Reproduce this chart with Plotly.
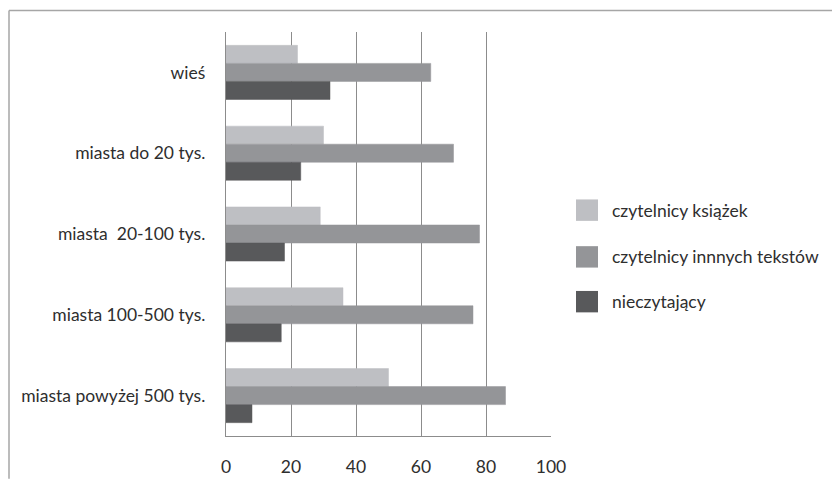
import plotly.graph_objects as go

# Categories (top to bottom) and series values in percent
categories = ["wieś", "miasta do 20 tys.", "miasta  20-100 tys.",
              "miasta 100-500 tys.", "miasta powyżej 500 tys."]
series_names = ["czytelnicy książek", "czytelnicy innnych tekstów", "nieczytający"]
czytelnicy_ksiazek = [22, 30, 29, 36, 50]
czytelnicy_innych = [63, 70, 78, 76, 86]
nieczytajacy = [32, 23, 18, 17, 8]
x_ticks = [0, 20, 40, 60, 80, 100]

colors = ["#bebfc3", "#949598", "#58595b"]
values = [czytelnicy_ksiazek, czytelnicy_innych, nieczytajacy]

W, H = 832, 489
ML, MR, MT, MB = 226, 281, 32, 42
PW, PH = W - ML - MR, H - MT - MB
FONT = "Lato"
TXT = "#2e2e2e"
FS = 17.5


def px_x(px):
    return (px - ML) / PW


def px_y(py):
    return (H - MB - py) / PH


fig = go.Figure()
for name, vals, col in zip(series_names, values, colors):
    fig.add_trace(go.Bar(
        y=categories, x=vals, name=name, orientation="h",
        marker=dict(color=col, line=dict(color=col, width=0.5)),
        showlegend=False,
    ))

shapes = []
annotations = []
# Legend: square swatch + label for each series
leg_centers = [215, 263, 309]
for name, col, cy in zip(series_names, colors, leg_centers):
    shapes.append(dict(type="rect", xref="paper", yref="paper",
                       x0=px_x(576), x1=px_x(598), y0=px_y(cy + 11), y1=px_y(cy - 11),
                       fillcolor=col, line=dict(width=0)))
    annotations.append(dict(xref="paper", yref="paper", x=px_x(610), y=px_y(cy),
                            text=name, showarrow=False, xanchor="left", yanchor="middle",
                            font=dict(family=FONT, size=FS, color=TXT)))

# Outer frame (top and left edges)
shapes.append(dict(type="line", xref="paper", yref="paper",
                   x0=px_x(9), x1=px_x(W + 2), y0=px_y(10), y1=px_y(10),
                   line=dict(color="#a6a6a6", width=1.5)))
shapes.append(dict(type="line", xref="paper", yref="paper",
                   x0=px_x(9), x1=px_x(9), y0=px_y(10), y1=px_y(H + 2),
                   line=dict(color="#a6a6a6", width=1.5)))

fig.update_layout(
    width=W, height=H,
    margin=dict(l=ML, r=MR, t=MT, b=MB),
    paper_bgcolor="white", plot_bgcolor="white",
    barmode="group", bargap=0.33, bargroupgap=0,
    font=dict(family=FONT, size=FS, color=TXT),
    shapes=shapes, annotations=annotations,
    showlegend=False,
)
fig.update_xaxes(range=[0, 100], tickvals=x_ticks, ticktext=[str(v) for v in x_ticks],
                 showgrid=True, gridcolor="#8c8c8c", gridwidth=1.3,
                 showline=True, linecolor="#8c8c8c", linewidth=1.3,
                 zeroline=False, ticks="", ticklabelstandoff=15,
                 tickfont=dict(family=FONT, size=FS, color=TXT))
fig.update_yaxes(categoryorder="array", categoryarray=categories, autorange="reversed",
                 showline=True, linecolor="#8c8c8c", linewidth=1.3,
                 showgrid=False, ticks="", ticklabelstandoff=16,
                 tickfont=dict(family=FONT, size=FS, color=TXT))

fig.write_html("out.html")
